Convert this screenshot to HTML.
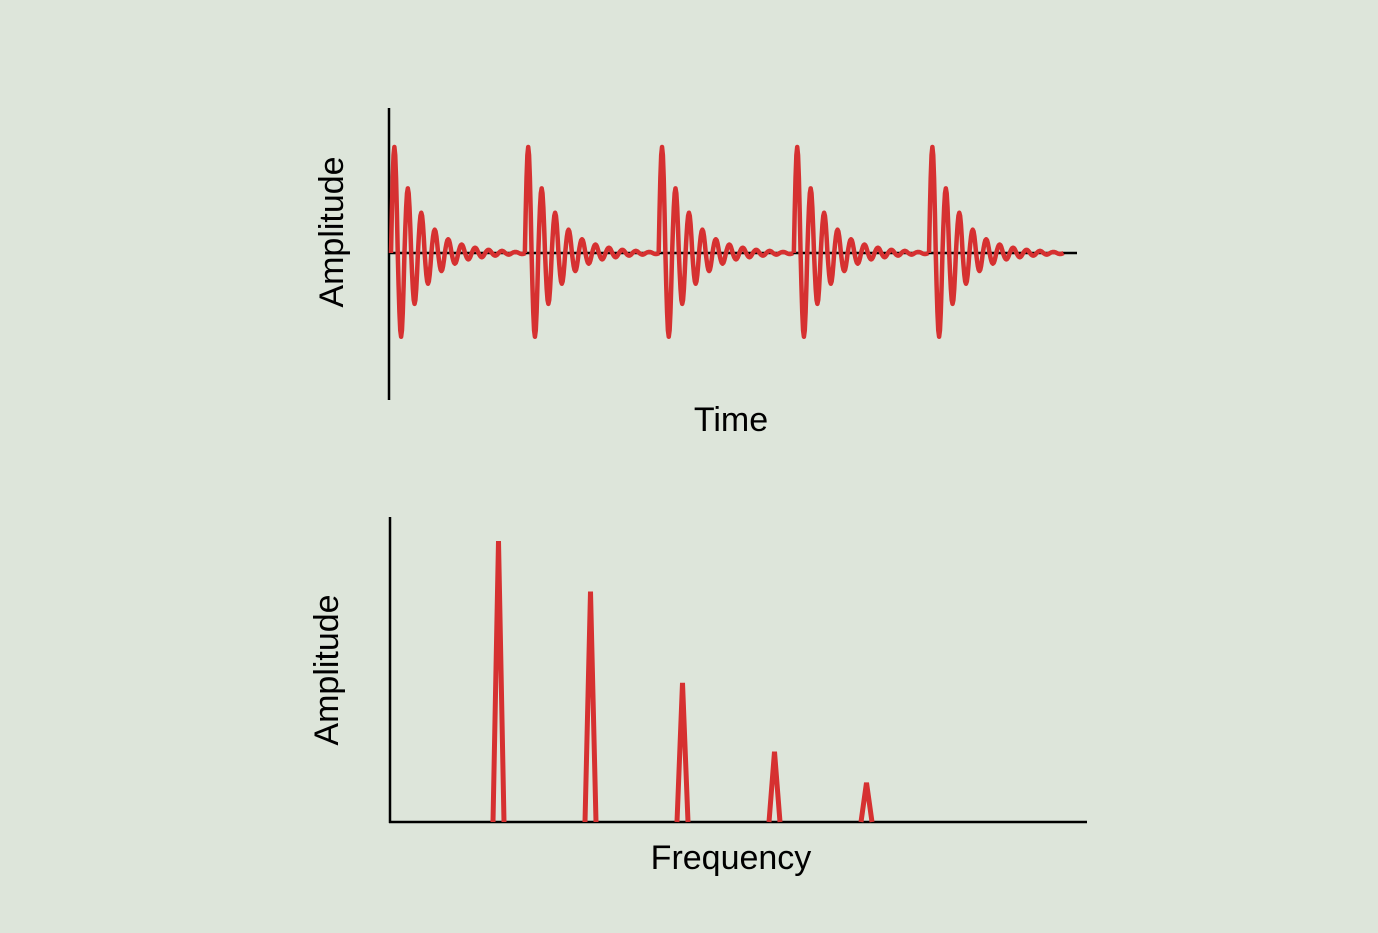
<!DOCTYPE html>
<html><head><meta charset="utf-8"><style>
html,body{margin:0;padding:0;background:#dde5da;}
svg{display:block;font-family:"Liberation Sans",sans-serif;}
</style></head><body>
<svg id="chart" width="1378" height="933" viewBox="0 0 1378 933">
<rect width="1378" height="933" fill="#dde5da"/>
<g id="top">
<line x1="389" y1="108" x2="389" y2="400" stroke="#000" stroke-width="2.5"/>
<line x1="389" y1="253" x2="1077" y2="253" stroke="#000" stroke-width="2.5"/>
<g id="pulses"></g>
<text x="731" y="431" font-size="34" text-anchor="middle" fill="#000">Time</text>
<text transform="translate(343,232) rotate(-90)" font-size="34" text-anchor="middle" fill="#000">Amplitude</text>
</g>
<g id="bottom">
<line x1="390" y1="517" x2="390" y2="823" stroke="#000" stroke-width="2.5"/>
<line x1="389" y1="822" x2="1087" y2="822" stroke="#000" stroke-width="2.5"/>
<g id="spikes"></g>
<text x="731" y="869" font-size="34" text-anchor="middle" fill="#000">Frequency</text>
<text transform="translate(338,670) rotate(-90)" font-size="34" text-anchor="middle" fill="#000">Amplitude</text>
</g>
</svg>
<script>
// Time-domain data
const pulseStarts = [0.015, 1.01, 2.005, 3.01, 4.015];   // pulse onset times (periods)
const halfCycleAmps = [1.0, -0.79, 0.61, -0.48, 0.38, -0.29, 0.22, -0.17, 0.13, -0.10, 0.08, -0.06, 0.05, -0.04, 0.03, -0.025, 0.02, -0.015, 0.01, -0.01];
const halfCycleCount = 20;
// Frequency-domain data
const harmonics = [1, 2, 3, 4, 5];
const harmonicAmps = [1.0, 0.82, 0.495, 0.25, 0.14];

const NS = "http://www.w3.org/2000/svg";
const RED = "#d63131";
// time axis scales
const tX = t => 389 + t * 134.5;
const tY = a => 253 - a * 106;
// frequency axis scales
const fX = f => 406.5 + f * 92;
const fY = a => 822 - a * 281;

const pg = document.getElementById('pulses');
pulseStarts.forEach((s, i) => {
  let d = "M" + tX(s).toFixed(2) + "," + tY(0).toFixed(2);
  const hw = 1 / halfCycleCount;
  halfCycleAmps.forEach((amp, k) => {
    for (let j = 1; j <= 8; j++) {
      const u = j / 8;
      const t = s + (k + u) * hw;
      d += " L" + tX(t).toFixed(2) + "," + tY(amp * Math.sin(Math.PI * u)).toFixed(2);
    }
  });
  const p = document.createElementNS(NS, 'path');
  p.setAttribute('d', d);
  p.setAttribute('fill', 'none');
  p.setAttribute('stroke', RED);
  p.setAttribute('stroke-width', '4.5');
  p.setAttribute('stroke-linejoin', 'round');
  
  
  pg.appendChild(p);
});

const sg = document.getElementById('spikes');
harmonics.forEach((f, i) => {
  const x = fX(f);
  const p = document.createElementNS(NS, 'polyline');
  p.setAttribute('points', (x - 5.5) + "," + 822 + " " + x + "," + fY(harmonicAmps[i]) + " " + (x + 5.5) + "," + 822);
  p.setAttribute('fill', 'none');
  p.setAttribute('stroke', RED);
  p.setAttribute('stroke-width', '5');
  p.setAttribute('stroke-linejoin', 'bevel');
  
  
  sg.appendChild(p);
});
</script>
</body></html>
